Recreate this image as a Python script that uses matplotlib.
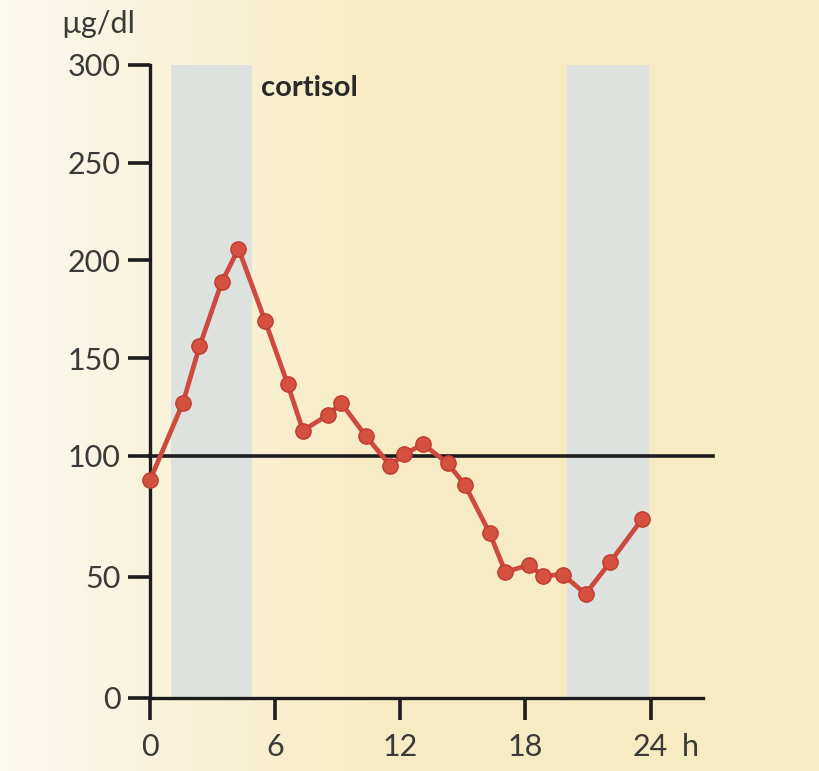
import numpy as np
import matplotlib
matplotlib.use("Agg")
import matplotlib.pyplot as plt

# data
hours = [0.0, 1.57, 2.37, 3.44, 4.24, 5.52, 6.59, 7.33, 8.53, 9.17, 10.36, 11.52,
         12.19, 13.09, 14.27, 15.1, 16.29, 17.04, 18.16, 18.83, 19.79, 20.88, 22.05, 23.6]
cortisol = [90, 127, 156, 189, 206, 169, 137, 113, 121, 127, 110, 96,
            101, 106, 97, 88, 68, 52, 55, 50.5, 51, 43, 56, 74]
night_bands = [(1.0, 4.9), (20.0, 23.9)]
y_ticks = [0, 50, 100, 150, 200, 250, 300]
x_ticks = [0, 6, 12, 18, 24]

# the axis is stretched below 100
k = 1.238
def fwd(y):
    y = np.asarray(y, dtype=float)
    return np.where(y <= 100, y * k, 100 * k + (y - 100))
def inv(z):
    z = np.asarray(z, dtype=float)
    return np.where(z <= 100 * k, z / k, z - 100 * k + 100)

txt = '#3a3a38'
font = 'Lato'

fig = plt.figure(figsize=(8.2, 7.71), dpi=100)

# paper background, lighter at the left
bg = fig.add_axes([0, 0, 1, 1])
g = np.linspace(0, 1, 256)
c0 = np.array([0.985, 0.975, 0.93])
c1 = np.array([0.97, 0.925, 0.77])
grad = c0[None, :] + (c1 - c0)[None, :] * np.clip(g * 2.2, 0, 1)[:, None]
bg.imshow(grad[None, :, :], aspect='auto', extent=[0, 1, 0, 1])
bg.axis('off')

ax = fig.add_axes([0.183, 0.0947, 0.674, 0.821])
ax.patch.set_alpha(0)
ax.set_yscale('function', functions=(fwd, inv))
ax.set_xlim(0, 26.5)
ax.set_ylim(0, 300)

for a, b in night_bands:
    ax.axvspan(a, b, ymin=0, ymax=1, color='#dde2df', lw=0, zorder=0)

ax.plot([0, 27.0], [100, 100], color='#1c1c1c', lw=2.6, clip_on=False, zorder=1)

ax.plot(hours, cortisol, color='#cf4a3e', lw=3.4, marker='o', ms=11,
        mfc='#d4503f', mec='#c03b30', mew=1, zorder=3, clip_on=False)

for s in ['top', 'right']:
    ax.spines[s].set_visible(False)
for s in ['left', 'bottom']:
    ax.spines[s].set_linewidth(2.4)
    ax.spines[s].set_color('#1c1c1c')

ax.set_yticks(y_ticks)
ax.set_xticks(x_ticks)
ax.yaxis.set_minor_locator(matplotlib.ticker.NullLocator())
ax.tick_params(axis='both', length=16, width=2.6, color='#1c1c1c',
               labelsize=22, labelcolor=txt)
ax.tick_params(axis='y', pad=5)
ax.tick_params(axis='x', pad=9)
for lab in ax.get_xticklabels() + ax.get_yticklabels():
    lab.set_family(font)

ax.text(-0.16, 1.065, 'µg/dl', transform=ax.transAxes, fontsize=22,
        color=txt, family=font, ha='left', va='center')
ax.text(5.3, 295, 'cortisol', fontsize=21, fontweight='bold', color='#2a2a28',
        family=font, ha='left', va='top')
ax.text(25.9, -0.077, 'h', transform=ax.get_xaxis_transform(), fontsize=22,
        color=txt, family=font, ha='center', va='center')

fig.savefig('out.png', dpi=100)
